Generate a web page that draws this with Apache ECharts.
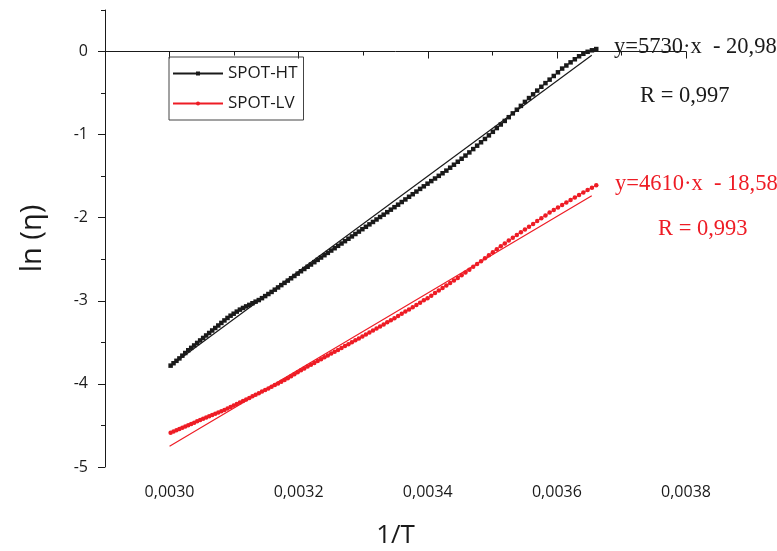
<!DOCTYPE html>
<html><head><meta charset="utf-8">
<script src="https://cdn.jsdelivr.net/npm/echarts@6/dist/echarts.min.js"></script>
<style>html,body{margin:0;padding:0;background:#fff}#c{width:777px;height:551px}</style>
</head><body><div id="c"></div>
<script>
const invT = [0.00300165,0.00300616,0.00301069,0.00301523,0.00301978,0.00302435,0.00302893,0.00303352,0.00303813,0.00304275,
0.00304739,0.00305204,0.00305670,0.00306138,0.00306607,0.00307078,0.00307550,0.00308024,0.00308499,0.00308976,
0.00309454,0.00309933,0.00310414,0.00310897,0.00311381,0.00311866,0.00312353,0.00312842,0.00313332,0.00313824,
0.00314317,0.00314812,0.00315308,0.00315806,0.00316306,0.00316807,0.00317309,0.00317813,0.00318319,0.00318827,
0.00319336,0.00319847,0.00320359,0.00320873,0.00321388,0.00321906,0.00322425,0.00322945,0.00323467,0.00323991,
0.00324517,0.00325045,0.00325574,0.00326105,0.00326637,0.00327172,0.00327708,0.00328246,0.00328785,0.00329327,
0.00329870,0.00330415,0.00330962,0.00331510,0.00332061,0.00332613,0.00333167,0.00333722,0.00334280,0.00334840,
0.00335402,0.00335965,0.00336530,0.00337098,0.00337667,0.00338238,0.00338811,0.00339386,0.00339963,0.00340542,
0.00341122,0.00341705,0.00342290,0.00342877,0.00343466,0.00344056,0.00344649,0.00345244,0.00345841,0.00346440,
0.00347041,0.00347644,0.00348250,0.00348857,0.00349467,0.00350079,0.00350693,0.00351309,0.00351927,0.00352547,
0.00353170,0.00353795,0.00354422,0.00355051,0.00355682,0.00356316,0.00356952,0.00357590,0.00358230,0.00358873,
0.00359518,0.00360166,0.00360815,0.00361467,0.00362122,0.00362779,0.00363438,0.00364100,0.00364764,0.00365430,
0.00366099];
const spotHT = [-3.780,-3.751,-3.722,-3.693,-3.660,-3.628,-3.595,-3.566,-3.537,-3.507,
-3.477,-3.447,-3.417,-3.387,-3.357,-3.327,-3.297,-3.266,-3.236,-3.206,
-3.179,-3.155,-3.130,-3.106,-3.086,-3.067,-3.049,-3.029,-3.010,-2.991,
-2.968,-2.943,-2.918,-2.893,-2.866,-2.839,-2.811,-2.784,-2.757,-2.729,
-2.701,-2.673,-2.644,-2.617,-2.590,-2.563,-2.535,-2.507,-2.479,-2.451,
-2.423,-2.395,-2.367,-2.338,-2.310,-2.282,-2.253,-2.225,-2.196,-2.167,
-2.138,-2.109,-2.080,-2.051,-2.021,-1.991,-1.963,-1.933,-1.903,-1.873,
-1.843,-1.811,-1.780,-1.748,-1.717,-1.685,-1.653,-1.622,-1.590,-1.559,
-1.528,-1.496,-1.465,-1.433,-1.398,-1.362,-1.326,-1.290,-1.252,-1.214,
-1.174,-1.133,-1.092,-1.052,-1.009,-0.966,-0.921,-0.878,-0.835,-0.790,
-0.744,-0.700,-0.654,-0.606,-0.560,-0.515,-0.470,-0.424,-0.380,-0.338,
-0.294,-0.250,-0.205,-0.168,-0.130,-0.093,-0.057,-0.027,-0.003,0.015,
0.030];
const spotLV = [-4.587,-4.573,-4.558,-4.543,-4.528,-4.513,-4.498,-4.483,-4.466,-4.450,
-4.435,-4.419,-4.404,-4.389,-4.374,-4.359,-4.344,-4.329,-4.314,-4.297,
-4.279,-4.261,-4.243,-4.224,-4.205,-4.187,-4.169,-4.149,-4.130,-4.112,
-4.092,-4.073,-4.054,-4.034,-4.014,-3.994,-3.974,-3.953,-3.931,-3.907,
-3.884,-3.860,-3.837,-3.814,-3.791,-3.769,-3.747,-3.725,-3.703,-3.680,
-3.658,-3.635,-3.613,-3.591,-3.567,-3.544,-3.522,-3.499,-3.475,-3.452,
-3.429,-3.406,-3.382,-3.357,-3.333,-3.309,-3.284,-3.259,-3.235,-3.209,
-3.183,-3.157,-3.130,-3.103,-3.076,-3.049,-3.022,-2.994,-2.968,-2.938,
-2.907,-2.877,-2.846,-2.816,-2.785,-2.755,-2.724,-2.692,-2.659,-2.625,
-2.591,-2.558,-2.523,-2.487,-2.451,-2.414,-2.378,-2.343,-2.309,-2.275,
-2.241,-2.208,-2.175,-2.142,-2.108,-2.074,-2.040,-2.005,-1.972,-1.938,
-1.906,-1.876,-1.846,-1.816,-1.786,-1.756,-1.726,-1.696,-1.666,-1.638,
-1.609];
const fitHT = [[0.003000, -3.79], [0.003654, -0.045]];
const fitLV = [[0.003000, -4.75], [0.003654, -1.735]];
const xMajorTicks = [0.0030, 0.0032, 0.0034, 0.0036, 0.0038];
const xMinorTicks = [0.0029, 0.0031, 0.0033, 0.0035, 0.0037];
const yMajorTicks = [-5, -4, -3, -2, -1, 0];
const yMinorTicks = [-4.5, -3.5, -2.5, -1.5, -0.5, 0.5];
const eqHT = ['y=5730·x  - 20,98', 'R = 0,997'];
const eqLV = ['y=4610·x  - 18,58', 'R = 0,993'];

const BLACK = '#1a1a1a', RED = '#ee1c25';
const sans = '"Open Sans", "Noto Sans", sans-serif';
const serif = '"Liberation Serif", "DejaVu Serif", serif';
const pair = (xs, ys) => xs.map((x, i) => [x, ys[i]]);

const chart = echarts.init(document.getElementById('c'), null, {renderer: 'canvas'});
const baseAxis = {
  axisLine: {show: true, lineStyle: {color: BLACK, width: 1}},
  splitLine: {show: false}
};
chart.setOption({
  animation: false,
  backgroundColor: '#fff',
  grid: {left: 105, right: 91, top: 10, bottom: 84, containLabel: false, outerBoundsMode: 'none'},
  legend: {
    data: ['SPOT-HT', 'SPOT-LV'],
    orient: 'vertical', left: 169, top: 57,
    padding: [8, 6, 8, 3], itemGap: 13, itemWidth: 50, itemHeight: 5,
    borderColor: '#444', borderWidth: 1,
    textStyle: {fontSize: 17, color: BLACK, fontFamily: sans, lineHeight: 16}
  },
  xAxis: [{
    ...baseAxis, type: 'value', min: 0.0029, max: 0.0038,
    name: '1/T', nameLocation: 'middle', nameGap: 56,
    nameTextStyle: {fontSize: 26, color: BLACK, fontFamily: sans},
    axisTick: {show: true, inside: false, length: 7, customValues: xMajorTicks, lineStyle: {color: BLACK}},
    axisLabel: {customValues: xMajorTicks, margin: 17, fontSize: 16, color: BLACK, fontFamily: sans,
      formatter: v => v.toFixed(4).replace('.', ',')}
  }, {
    type: 'value', min: 0.0029, max: 0.0038, position: 'bottom',
    axisLine: {show: false}, splitLine: {show: false}, axisLabel: {show: false},
    axisTick: {show: true, length: 4, customValues: xMinorTicks, lineStyle: {color: BLACK}}
  }],
  yAxis: [{
    ...baseAxis, type: 'value', min: -5, max: 0.5,
    name: 'ln (η)', nameLocation: 'middle', nameGap: 58, nameRotate: 90,
    nameTextStyle: {fontSize: 29, color: BLACK, fontFamily: sans},
    axisTick: {show: true, inside: false, length: 7, customValues: yMajorTicks, lineStyle: {color: BLACK}},
    axisLabel: {customValues: yMajorTicks, margin: 17, fontSize: 16, color: BLACK, fontFamily: sans}
  }, {
    type: 'value', min: -5, max: 0.5, position: 'left',
    axisLine: {show: false}, splitLine: {show: false}, axisLabel: {show: false},
    axisTick: {show: true, length: 4, customValues: yMinorTicks, lineStyle: {color: BLACK}}
  }],
  series: [
    {name: 'fitHT', type: 'line', data: fitHT, symbol: 'none', silent: true,
     lineStyle: {color: BLACK, width: 1.2}, z: 2},
    {name: 'fitLV', type: 'line', data: fitLV, symbol: 'none', silent: true,
     lineStyle: {color: RED, width: 1.2}, z: 2},
    {name: 'SPOT-HT', type: 'line', data: pair(invT, spotHT), symbol: 'rect', symbolSize: 4.5,
     showAllSymbol: true, color: BLACK, itemStyle: {color: BLACK}, lineStyle: {color: BLACK, width: 1}, z: 3},
    {name: 'SPOT-LV', type: 'line', data: pair(invT, spotLV), symbol: 'circle', symbolSize: 4.5,
     showAllSymbol: true, color: RED, itemStyle: {color: RED}, lineStyle: {color: RED, width: 1}, z: 3}
  ],
  graphic: [
    {type: 'text', left: 614, top: 36, style: {text: eqHT[0], fill: BLACK, font: '22.5px ' + serif}},
    {type: 'text', left: 640, top: 85, style: {text: eqHT[1], fill: BLACK, font: '22.5px ' + serif}},
    {type: 'text', left: 615, top: 173, style: {text: eqLV[0], fill: RED, font: '22.5px ' + serif}},
    {type: 'text', left: 658, top: 218, style: {text: eqLV[1], fill: RED, font: '22.5px ' + serif}}
  ]
});
</script></body></html>
